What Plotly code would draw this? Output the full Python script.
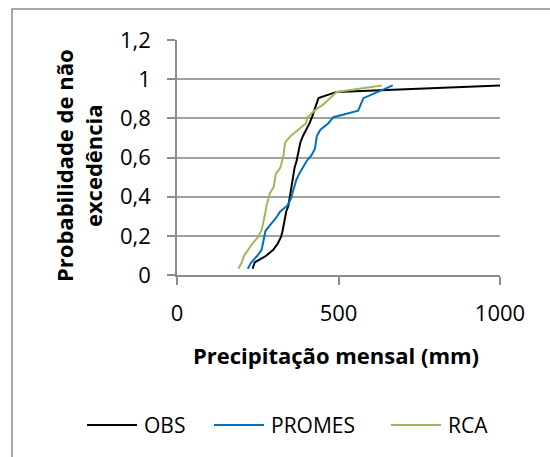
import plotly.graph_objects as go

# Non-exceedance probability (Weibull plotting position) for 30 ranked months
probability = [0.032, 0.065, 0.097, 0.129, 0.161, 0.194, 0.226, 0.258, 0.290, 0.323,
               0.355, 0.387, 0.419, 0.452, 0.484, 0.516, 0.548, 0.581, 0.613, 0.645,
               0.677, 0.710, 0.742, 0.774, 0.806, 0.839, 0.871, 0.903, 0.935, 0.968]

# Ranked monthly precipitation (mm)
obs = [234, 241, 275, 298, 312, 322, 327, 330, 333, 338,
       345, 348, 352, 355, 358, 361, 364, 370, 374, 377,
       382, 390, 401, 410, 418, 424, 430, 438, 494, 1008]
promes = [219, 230, 248, 262, 266, 269, 274, 290, 306, 319,
          342, 352, 357, 363, 369, 378, 389, 401, 417, 427,
          430, 433, 444, 468, 484, 561, 569, 577, 622, 668]
rca = [190, 201, 207, 220, 234, 251, 261, 266, 271, 274,
       277, 282, 288, 300, 304, 306, 320, 326, 330, 332,
       335, 352, 377, 399, 404, 425, 453, 475, 494, 634]

series_names = ["OBS", "PROMES", "RCA"]
series_values = [obs, promes, rca]
series_colors = ["#000000", "#0070C0", "#9BBB59"]

W, H = 550, 457
L, R, T, B = 177, 50, 40, 182
pw, ph = W - L - R, H - T - B

def px_x(px):
    return (px - L) / pw

def px_y(py):
    return (H - B - py) / ph

fig = go.Figure()
for name, vals, color in zip(series_names, series_values, series_colors):
    fig.add_trace(go.Scatter(x=vals, y=probability, mode="lines", name=name,
                             line=dict(color=color, width=2), showlegend=False))

axis_gray = "#8c8c8c"
grid_gray = "#a0a0a0"
tick_font = dict(family="Open Sans", size=22, color="#000000")

fig.update_layout(
    width=W, height=H,
    margin=dict(l=L, r=R, t=T, b=B),
    paper_bgcolor="white", plot_bgcolor="white",
    separators=", ",
    font=dict(family="Open Sans", color="#000000"),
    showlegend=False,
    xaxis=dict(range=[0, 1000], tickvals=[0, 500, 1000], showgrid=False,
               zeroline=False, showline=True, linecolor=axis_gray, linewidth=1.5,
               ticks="outside", ticklen=8, tickcolor=axis_gray, tickwidth=1.5,
               tickfont=tick_font, ticklabelstandoff=10),
    yaxis=dict(range=[0, 1.2], tickvals=[0, 0.2, 0.4, 0.6, 0.8, 1, 1.2],
               showgrid=True, gridcolor=grid_gray, gridwidth=1.5,
               zeroline=False, showline=True, linecolor=axis_gray, linewidth=1.5,
               ticks="outside", ticklen=8, tickcolor=axis_gray, tickwidth=1.5,
               tickfont=tick_font, ticklabelstandoff=12),
)

title_font = dict(family="Open Sans", size=22, color="#000000")

# x-axis title
fig.add_annotation(text="<b>Precipitação mensal (mm)</b>",
                   xref="paper", yref="paper", x=px_x(336), y=px_y(355),
                   xanchor="center", yanchor="middle", showarrow=False,
                   font=title_font)

# Rotated two-line y-axis title
fig.add_annotation(text="<b>Probabilidade de não<br>excedência</b>",
                   xref="paper", yref="paper", x=px_x(78), y=px_y(166),
                   xanchor="center", yanchor="middle", textangle=-90,
                   showarrow=False, font=title_font)

# Legend row: line sample followed by series name
legend_y = px_y(425)
legend_line_x = [87, 214, 391]
for name, color, lx in zip(series_names, series_colors, legend_line_x):
    fig.add_shape(type="line", xref="paper", yref="paper",
                  x0=px_x(lx), x1=px_x(lx + 50), y0=legend_y, y1=legend_y,
                  line=dict(color=color, width=2))
    fig.add_annotation(text=name, xref="paper", yref="paper",
                       x=px_x(lx + 55), y=legend_y, xanchor="left", yanchor="middle",
                       showarrow=False,
                       font=dict(family="Open Sans", size=21, color="#000000"))

# Chart-area border
fig.add_shape(type="rect", xref="paper", yref="paper",
              x0=px_x(12), y0=px_y(470), x1=px_x(560), y1=px_y(9),
              line=dict(color="#8c8c8c", width=1.5), fillcolor="rgba(0,0,0,0)",
              layer="below")

fig.write_html("out.html")
